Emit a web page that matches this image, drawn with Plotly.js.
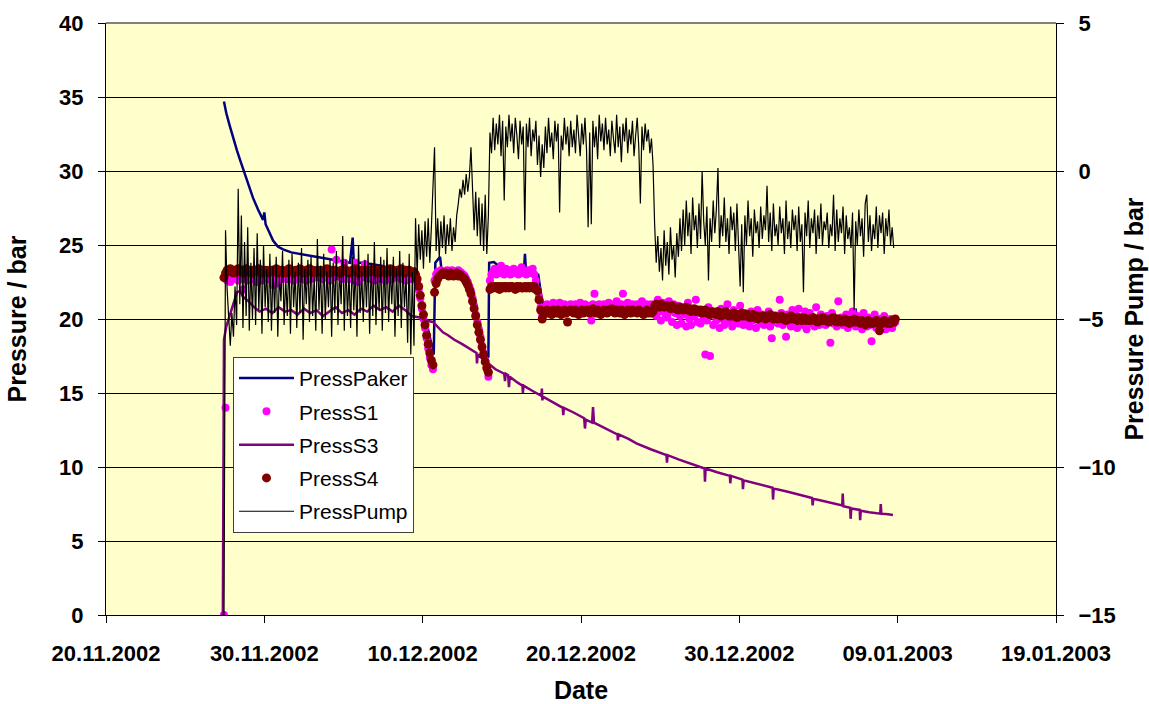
<!DOCTYPE html>
<html>
<head>
<meta charset="utf-8">
<script src="https://cdn.plot.ly/plotly-3.0.1.min.js"></script>
<style>html,body{margin:0;padding:0;background:#fff;}#chart{width:1149px;height:704px;}</style>
</head>
<body>
<div id="chart"></div>
<script>
// ---------------- DATA ----------------
// Axis tick labels (dates, every 10 days)
const tickDates = ['2002-11-20','2002-11-30','2002-12-10','2002-12-20','2002-12-30','2003-01-09','2003-01-19'];
const tickLabels = ['20.11.2002','30.11.2002','10.12.2002','20.12.2002','30.12.2002','09.01.2003','19.01.2003'];

// Regular logger samples: first sample 7.45 days after 20.11.2002, one sample every 0.1 day
const sampleStartDay = 7.45;
const sampleStepDays = 0.1;

// PressS4 [bar], one row = 10 samples (1 day)
const pressS4 = [
22.8,23.1,23.3,23.2,23.4,23.2,23.1,23.3,23.2,23.4,
23.2,23.3,23.1,23.2,23.4,23.3,23.2,23.1,23.3,23.2,
23.3,23.2,23.4,23.2,23.1,23.3,23.2,23.3,23.1,23.2,
23.3,23.2,23.2,23.4,23.1,23.3,23.2,23.3,23.2,23.1,
23.2,23.4,23.3,23.2,23.1,23.3,23.2,23.2,23.4,23.3,
23.2,23.1,23.3,23.2,23.4,23.2,23.3,23.1,23.2,23.3,
23.2,23.3,23.1,23.2,23.3,23.4,23.2,23.1,23.3,23.2,
23.3,23.2,23.2,23.1,23.3,23.2,23.4,23.3,23.2,23.1,
23.2,23.3,23.2,23.4,23.2,23.1,23.3,23.2,23.3,23.2,
23.1,23.3,23.2,23.2,23.4,23.3,23.2,23.1,23.3,23.2,
23.3,23.2,23.1,23.3,23.2,23.4,23.2,23.3,23.1,23.2,
23.3,23.2,23.4,23.2,23.1,23.3,23.2,23.3,23.2,23.1,
23.2,23.0,22.7,22.2,21.6,20.9,20.3,19.6,18.9,18.3,
17.7,17.2,16.9,21.8,22.4,22.7,22.9,23.0,23.1,23.0,
23.1,23.0,22.9,23.1,23.0,22.9,23.0,23.1,22.9,23.0,
22.9,22.8,22.7,22.5,22.3,22.0,21.7,21.2,20.7,20.2,
19.6,19.1,18.6,18.1,17.6,17.1,16.7,16.4,22.0,22.2,
22.1,22.2,22.1,22.2,22.0,22.2,22.1,22.2,22.1,22.2,
22.1,22.2,22.2,22.1,22.0,22.2,22.1,22.2,22.1,22.1,
22.2,22.1,22.2,22.1,22.2,22.1,22.2,22.0,21.9,21.3,
20.6,20.0,20.3,20.5,20.6,20.4,20.5,20.3,20.6,20.5,
20.4,20.6,20.5,20.3,20.5,20.6,20.4,19.8,20.5,20.6,
20.5,20.4,20.6,20.5,20.3,20.5,20.6,20.4,20.5,20.6,
20.5,20.4,20.6,20.7,20.5,20.4,20.6,20.5,20.3,20.5,
20.6,20.5,20.4,20.6,20.5,20.7,20.5,20.4,20.6,20.5,
20.4,20.6,20.5,20.3,20.5,20.6,20.5,20.4,20.6,20.5,
20.5,20.4,20.6,20.5,20.4,20.3,20.5,20.6,20.4,20.5,
20.4,20.5,20.9,21.0,20.9,20.8,21.0,20.9,20.8,20.9,
20.9,20.8,20.7,20.9,20.8,20.7,20.8,20.6,20.8,20.7,
20.6,20.7,20.8,20.6,20.7,20.5,20.6,20.7,20.5,20.6,
20.5,20.6,20.4,20.5,20.6,20.4,20.5,20.3,20.5,20.4,
20.4,20.3,20.5,20.4,20.2,20.4,20.3,20.5,20.3,20.2,
20.3,20.2,20.4,20.3,20.1,20.3,20.2,20.4,20.2,20.3,
20.2,20.3,20.1,20.2,20.3,20.1,20.2,20.0,20.2,20.1,
20.2,20.1,20.0,20.2,20.1,20.3,20.1,20.0,20.2,20.1,
20.0,20.1,20.2,20.0,20.1,19.9,20.1,20.0,20.2,20.0,
20.1,20.0,19.9,20.1,20.0,19.9,20.1,20.0,19.9,20.0,
19.9,20.0,20.1,19.9,20.0,19.8,20.0,19.9,20.1,19.9,
20.0,19.9,19.8,20.0,19.9,20.1,19.9,19.8,20.0,19.9,
19.8,19.9,20.0,19.8,19.9,19.7,19.9,19.8,20.0,19.8,
19.9,19.8,19.7,19.9,19.8,19.6,19.8,19.9,19.7,19.8,
19.7,19.8,19.9,19.7,19.2,19.8,19.7,19.9,19.8,19.7,
19.8,19.7,19.9,19.8,20.0
];

// PressS1 [bar], same sampling
const pressS1 = [
0,14.0,22.6,22.9,22.5,22.8,23.0,22.7,23.1,22.6,
22.9,22.7,22.0,23.0,22.8,22.6,23.1,22.9,22.7,23.0,
22.8,22.5,23.1,22.9,22.6,23.0,22.8,23.2,22.7,22.9,
22.6,22.3,22.9,23.0,22.4,22.8,23.1,22.7,22.9,23.0,
22.7,22.9,23.2,22.8,22.6,23.0,22.9,23.1,22.8,22.7,
23.0,22.8,22.6,23.1,22.9,22.7,23.0,23.2,22.8,22.9,
23.1,22.9,22.7,23.0,22.8,23.2,22.9,22.6,24.7,22.8,
23.0,24.0,22.9,23.1,22.8,22.7,23.8,23.0,22.9,22.7,
23.0,22.8,22.6,23.8,22.9,22.5,23.1,22.8,23.0,23.7,
22.8,23.0,22.7,22.9,23.1,22.6,22.8,23.0,22.9,22.7,
23.0,22.8,22.6,23.1,22.9,23.2,22.7,22.9,23.0,22.8,
23.1,22.9,22.7,23.0,22.8,22.6,23.0,22.9,22.7,22.8,
22.9,22.8,22.5,22.0,21.4,20.7,20.0,19.4,18.7,18.0,
17.4,16.9,16.6,22.6,23.0,23.2,23.1,23.3,23.2,23.1,
23.2,23.3,23.1,23.2,23.3,23.1,23.2,23.0,23.3,23.2,
23.1,23.0,22.9,22.7,22.5,22.2,21.9,21.4,20.9,20.3,
19.8,19.3,18.8,18.2,17.7,17.2,16.6,16.1,22.6,23.0,
23.2,23.4,23.0,23.3,23.1,23.6,23.2,23.0,23.4,23.1,
23.3,23.0,23.2,23.4,23.1,23.3,23.0,23.2,23.5,23.1,
23.2,23.0,23.3,23.1,23.2,23.4,23.0,22.6,22.0,21.5,
20.8,20.2,20.6,20.8,21.0,20.7,20.9,20.6,21.1,20.8,
20.7,20.9,21.1,20.6,20.8,21.0,20.7,20.5,20.9,21.0,
20.8,20.6,21.0,20.9,20.7,21.1,20.8,20.6,21.0,20.9,
20.7,20.9,19.9,21.0,21.7,20.8,20.6,21.0,20.9,20.7,
21.0,20.8,20.6,21.1,20.9,20.7,21.0,20.8,21.2,20.6,
20.9,21.0,21.7,20.8,20.6,21.1,20.9,20.7,21.0,20.8,
20.6,21.0,20.9,20.7,21.2,20.8,20.6,21.0,20.9,20.7,
21.0,20.8,20.6,20.2,21.3,20.5,19.9,21.1,20.7,20.3,
20.1,21.2,20.5,19.8,21.0,20.4,19.6,20.9,20.2,19.7,
20.8,20.3,19.5,21.1,20.0,19.6,20.7,20.2,21.3,19.8,
20.4,19.7,20.6,20.1,17.6,19.9,20.8,17.5,20.3,19.6,
20.5,19.9,20.2,19.4,20.7,20.0,19.6,20.4,21.0,19.8,
20.1,19.5,20.6,19.9,20.3,19.7,20.9,20.0,19.6,20.4,
19.8,20.2,19.5,20.5,19.9,20.1,19.4,20.6,20.0,19.7,
20.3,19.6,20.1,19.9,20.5,19.5,18.7,20.2,19.8,20.0,
19.7,21.3,20.4,19.6,20.0,18.8,20.3,19.9,19.5,20.6,
19.9,20.2,19.4,20.7,19.8,20.1,19.6,20.5,19.3,20.0,
20.4,19.7,20.0,19.5,20.8,19.9,19.6,20.3,19.8,20.1,
19.6,20.2,19.9,18.4,20.4,19.7,20.0,19.5,21.2,19.8,
20.1,19.6,19.9,20.3,19.4,20.0,19.7,20.5,19.8,19.5,
20.2,19.7,19.9,19.3,20.4,19.8,19.5,20.1,19.6,18.5,
19.9,20.3,19.4,19.8,20.0,19.5,19.7,20.2,19.3,19.8,
19.6,20.0,19.4,19.7,19.8
];

// PressPump [bar] (right axis), same sampling
const pressPump = [
-15,-2.0,-4.0,-5.1,-5.9,-4.8,-5.6,-3.9,-5.2,-0.6,
-4.5,-1.5,-5.3,-2.4,-4.9,-1.9,-5.4,-3.1,-5.0,-2.6,
-5.2,-2.1,-4.7,-3.0,-5.5,-2.5,-4.6,-3.3,-5.1,-2.8,
-5.4,-3.2,-4.8,-2.9,-5.6,-3.5,-4.4,-2.7,-5.2,-3.6,
-4.9,-3.0,-5.5,-2.8,-4.6,-3.4,-5.3,-3.1,-4.8,-2.6,
-5.7,-3.3,-4.5,-3.0,-5.1,-2.9,-4.9,-3.6,-5.4,-2.3,
-4.7,-3.2,-5.5,-2.8,-5.0,-3.4,-4.6,-3.0,-5.6,-3.1,
-4.8,-2.7,-5.2,-3.3,-4.5,-2.2,-5.4,-3.0,-4.9,-3.5,
-5.3,-2.9,-4.7,-3.2,-5.6,-2.5,-4.8,-3.4,-5.1,-3.0,
-4.6,-2.8,-5.5,-3.1,-4.9,-2.4,-5.2,-3.3,-4.7,-2.9,
-5.4,-3.0,-4.8,-2.6,-5.1,-3.2,-4.5,-2.9,-5.6,-3.3,
-4.9,-2.7,-5.3,-3.1,-4.6,-3.5,-5.8,-2.8,-6.2,-3.4,
-5.9,-1.6,-3.5,-1.8,-3.0,-2.0,-3.3,-1.7,-2.9,-1.6,
-3.1,-1.9,-0.6,0.8,-2.7,-1.6,-2.9,-1.7,-2.6,-1.5,
-2.8,-1.8,-2.5,-1.6,-2.7,-1.9,-2.4,-1.5,-1.1,-0.6,
-0.9,-0.3,-0.8,-0.1,-0.7,-0.2,0.8,-1.0,-2.0,-0.7,
-2.2,-0.9,-2.5,-1.1,-2.7,-0.8,-2.8,-1.5,1.3,0.6,
1.8,0.7,1.6,0.9,1.9,0.5,1.7,-1.0,1.5,0.8,
1.9,1.0,1.6,0.6,1.8,1.2,0.4,1.7,0.9,1.5,
-2.0,1.6,0.8,1.8,0.5,1.4,1.0,1.7,0.2,1.2,
-0.2,0.9,0.1,1.5,0.6,1.8,0.8,1.3,0.4,1.7,
1.0,1.6,-1.4,1.2,0.7,1.8,0.9,1.5,0.5,1.7,
0.8,1.4,0.6,1.9,1.1,0.5,1.6,0.9,1.8,0.7,
-1.9,1.3,-1.8,1.7,0.8,1.5,0.4,1.9,1.0,1.6,
0.7,1.8,0.9,1.4,0.5,1.7,1.1,0.6,1.9,0.8,
1.5,0.3,1.6,1.0,1.8,0.6,1.4,0.9,1.7,0.5,
1.2,1.8,0.8,-1.1,1.5,0.7,1.6,1.0,1.4,0.6,
1.1,0.2,-1.8,-3.1,-2.2,-3.4,-2.6,-3.7,-2.0,-3.2,
-2.4,-3.5,-1.9,-3.0,-2.5,-3.6,-2.1,-2.9,-1.6,-2.7,
-1.3,-2.5,-1.0,-2.2,-1.4,-2.8,-0.9,-2.0,-1.5,-2.6,
-1.1,-2.3,0.0,-1.7,-2.5,-1.2,-3.7,-1.6,-2.4,-1.0,
-2.1,-1.3,0.1,-2.6,-1.5,-2.2,-0.9,-2.4,-1.6,-2.8,
-1.2,-2.0,-1.4,-2.7,-1.1,-2.3,-3.9,-1.8,-4.1,-1.5,
-2.5,-1.0,-2.2,-1.6,-2.9,-1.3,-2.1,-1.7,-2.6,-1.2,
-2.3,-1.5,-2.0,-0.5,-2.4,-1.4,-2.7,-1.1,-2.2,-1.8,
-2.5,-1.2,-2.1,-1.6,-2.8,-1.0,-2.3,-1.7,-2.6,-1.3,
-2.0,-1.5,-2.7,-1.2,-2.4,-1.8,-4.1,-1.4,-2.2,-1.0,
-2.6,-1.6,-2.1,-1.3,-2.8,-1.5,-2.3,-1.1,-2.5,-1.7,
-2.0,-1.4,-2.6,-1.8,-2.2,-0.8,-2.7,-1.3,-2.4,-1.6,
-2.1,-1.2,-2.8,-1.5,-2.3,-1.9,-2.6,-1.4,-4.7,-1.7,
-2.5,-1.3,-2.2,-1.6,-2.9,-1.1,-0.8,-2.4,-1.5,-2.7,
-1.8,-2.3,-1.2,-2.6,-1.5,-2.1,-1.4,-2.8,-1.6,-2.2,
-1.3,-2.5,-1.9,-2.6
];

// PressPaker [bar]: time (days after 20.11.2002) and value
const pakerDays = [7.45,7.6,7.83,8.05,8.27,8.45,8.65,8.95,9.28,9.6,9.92,10.0,10.08,10.3,10.55,10.85,11.18,11.7,12.25,12.8,13.33,13.8,14.34,14.9,15.41,15.58,15.65,16.2,16.86,17.4,18.0,18.6,19.2,19.55,19.9,20.3,20.7,20.8,21.1,21.2,22.0,22.5,22.9,23.4,23.8,24.15,24.2,24.5,24.9,25.6,26.4,26.46,26.52,27.3,27.5,27.7,28.5,29.5,30.5,31.5,32.5,33.5,34.6,34.7,36,38,40,42,43.6,43.65,43.7,46,47.3,47.35,47.4,49.75];
const pakerValues = [34.7,33.9,33.0,32.1,31.4,30.8,30.2,29.2,28.2,27.4,26.7,27.2,26.4,25.9,25.3,24.9,24.7,24.5,24.4,24.3,24.2,24.1,24.0,23.9,23.8,25.5,23.8,23.8,23.7,23.6,23.4,23.0,22.6,22.5,21.5,19.5,17.6,23.8,24.2,23.2,23.1,22.9,22.2,20.0,18.0,17.4,23.8,23.85,23.5,23.3,23.3,24.4,23.3,23.0,21.5,20.6,20.7,20.6,20.7,20.6,20.6,20.5,20.6,20.9,20.7,20.4,20.2,20.1,20.0,20.8,20.0,19.9,19.9,20.7,19.9,19.8];

// PressS3 [bar]: time (days after 20.11.2002) and value
const s3Days = [7.38,7.45,7.6,7.83,8.08,8.27,8.46,8.65,9.0,9.35,9.7,10.1,10.5,10.9,11.3,11.7,12.1,12.5,12.9,13.3,13.7,14.1,14.5,14.9,15.3,15.7,16.1,16.5,16.9,17.3,17.7,18.1,18.5,18.9,19.3,19.83,20.2,20.65,21.0,21.28,21.6,22.0,22.5,22.99,23.4,23.43,23.47,23.8,24.25,24.6,25.15,25.2,25.25,25.4,25.45,25.5,26.0,26.3,26.33,26.37,27.0,27.5,27.53,27.56,27.6,28.2,28.85,28.88,28.92,29.5,30.2,30.25,30.3,30.7,30.76,30.82,31.4,32.0,32.3,32.33,32.37,33.0,33.5,34.4,35.4,35.43,35.47,36.2,37.0,37.8,37.83,37.87,38.6,39.4,39.43,39.47,40.2,40.23,40.27,41.0,41.6,42.1,42.13,42.17,43.0,43.83,44.6,44.63,44.67,45.3,46.0,46.5,46.53,46.57,47.0,47.03,47.07,47.6,47.63,47.67,48.2,48.9,48.93,48.97,49.4,49.7];
const s3Values = [0,18.6,19.5,20.3,21.0,21.8,21.9,21.5,21.2,20.8,20.5,20.7,20.4,20.8,20.5,20.6,20.3,20.7,20.4,20.6,20.2,20.5,20.8,20.4,20.6,20.3,20.7,20.5,20.9,20.6,20.8,20.5,20.9,20.6,20.2,20.1,19.9,19.8,19.4,19.1,18.9,18.6,18.3,18.0,17.7,17.0,17.6,17.3,16.9,16.6,16.3,15.8,16.3,16.2,15.4,16.1,15.7,15.5,15.0,15.5,15.1,14.8,15.3,14.5,14.75,14.4,14.0,13.5,14.0,13.7,13.3,12.6,13.2,13.0,14.05,13.0,12.7,12.4,12.2,11.8,12.2,11.9,11.6,11.2,10.8,10.3,10.8,10.5,10.2,9.9,9.0,9.9,9.65,9.4,8.9,9.4,9.15,8.5,9.1,8.9,8.75,8.6,7.8,8.55,8.35,8.1,7.9,7.4,7.85,7.7,7.5,7.4,8.2,7.35,7.25,6.5,7.2,7.1,6.4,7.05,6.95,6.85,7.5,6.85,6.8,6.75];

// ---------------- BUILD ----------------
const DAY_MS = 86400000;
const ORIGIN_MS = Date.UTC(2002, 10, 20);
const toTime = d => ORIGIN_MS + d * DAY_MS;
const sampleTimes = n => Array.from({length: n}, (_, i) => toTime(sampleStartDay + i * sampleStepDays));

const FONT = 'Arial, "Liberation Sans", sans-serif';

const traces = [
  {name: 'PressPaker', x: pakerDays.map(toTime), y: pakerValues, type: 'scatter', mode: 'lines',
   line: {color: '#000080', width: 2.5}, legendgroup: 'a'},
  {name: 'PressS1', x: sampleTimes(pressS1.length), y: pressS1, type: 'scatter', mode: 'markers',
   marker: {color: '#FF00FF', size: 8}, legendgroup: 'b'},
  {name: 'PressS3', x: s3Days.map(toTime), y: s3Values, type: 'scatter', mode: 'lines',
   line: {color: '#800080', width: 2.5}, legendgroup: 'c'},
  {name: 'PressS4', x: sampleTimes(pressS4.length), y: pressS4, type: 'scatter', mode: 'markers',
   marker: {color: '#800000', size: 9}, legendgroup: 'd'},
  {name: 'PressPump', x: sampleTimes(pressPump.length), y: pressPump, type: 'scatter', mode: 'lines',
   line: {color: '#000000', width: 1.2}, yaxis: 'y2', legendgroup: 'e'}
];

const tickFont = {family: FONT, size: 22, color: '#000', weight: 700};
const titleFont = {family: FONT, size: 25, color: '#000', weight: 700};

const layout = {
  width: 1149, height: 704,
  margin: {l: 106, r: 93, t: 23, b: 89, pad: 0},
  paper_bgcolor: '#ffffff',
  plot_bgcolor: '#FFFFCC',
  showlegend: true,
  legend: {
    x: 0.1337, y: 0.436, xanchor: 'left', yanchor: 'top',
    bgcolor: '#ffffff', bordercolor: '#404040', borderwidth: 1,
    font: {family: FONT, size: 21, color: '#000'},
    traceorder: 'grouped', tracegroupgap: 3, itemwidth: 55
  },
  xaxis: {
    type: 'date',
    range: [tickDates[0], tickDates[tickDates.length - 1]],
    tickvals: tickDates, ticktext: tickLabels,
    tickfont: tickFont,
    ticks: 'outside', ticklen: 7, tickcolor: '#000', tickwidth: 1,
    ticklabelstandoff: 12,
    showgrid: false, zeroline: false,
    showline: true, linecolor: '#000', linewidth: 1,
    title: {text: 'Date', font: titleFont, standoff: 16},
    automargin: false
  },
  yaxis: {
    range: [0, 40], dtick: 5, tick0: 0,
    tickfont: tickFont,
    ticks: 'outside', ticklen: 7, tickcolor: '#000',
    ticklabelstandoff: 10,
    showgrid: true, gridcolor: '#000', gridwidth: 1,
    zeroline: false,
    showline: true, linecolor: '#000', linewidth: 1,
    title: {text: 'Pressure / bar', font: titleFont, standoff: 25},
    automargin: false
  },
  yaxis2: {
    range: [-15, 5], dtick: 5, tick0: 0,
    overlaying: 'y', side: 'right',
    tickfont: tickFont,
    ticks: 'outside', ticklen: 7, tickcolor: '#000',
    ticklabelstandoff: 10,
    showgrid: false, zeroline: false,
    showline: true, linecolor: '#000', linewidth: 1,
    title: {text: 'Pressure Pump / bar', font: titleFont, standoff: 10},
    automargin: false
  },
  shapes: [
    {type: 'line', xref: 'paper', yref: 'paper', x0: 0, x1: 1, y0: 1, y1: 1,
     line: {color: '#808080', width: 2}, layer: 'above'}
  ]
};

Plotly.newPlot('chart', traces, layout, {staticPlot: true, displayModeBar: false});
</script>
</body>
</html>
